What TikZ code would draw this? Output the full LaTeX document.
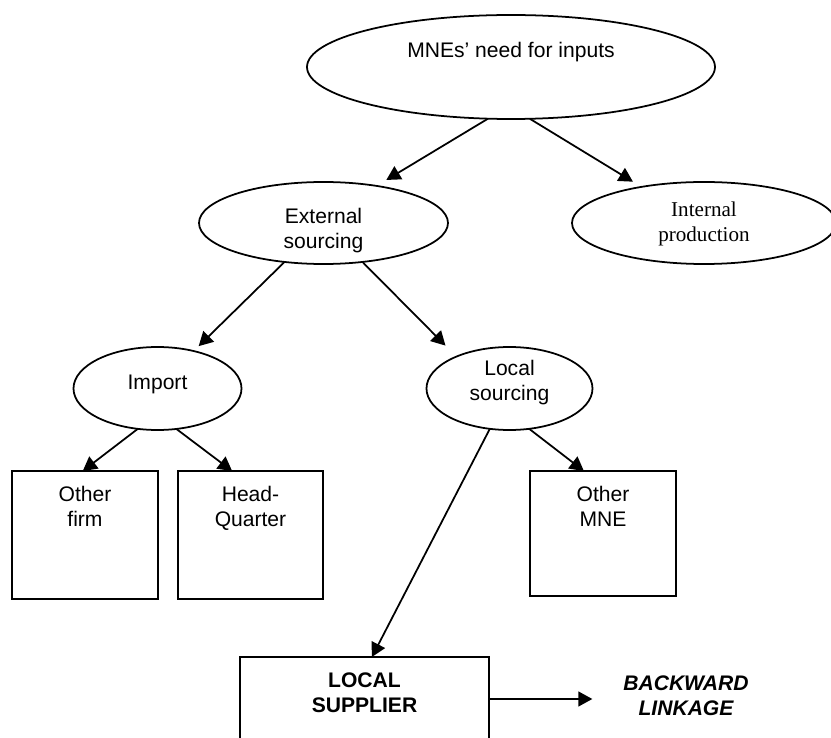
\documentclass[tikz,border=0pt]{standalone}
\usepackage{fontspec}
\setmainfont{Liberation Sans}
\newfontfamily\serifface{Liberation Serif}
\usepackage{tikz}
\usepackage{tkz-graph}
\usetikzlibrary{shapes,arrows.meta}

\tikzset{
  oval/.style={draw,shape=ellipse},
  box/.style={draw,shape=rectangle},
  tag/.style={anchor=north,align=center,inner sep=0pt},
  strong/.style={font=\fontsize{12}{14.2}\selectfont\bfseries},
}

\begin{document}
\begin{tikzpicture}[font=\fontsize{12}{14.2}\selectfont]
        \useasboundingbox (0,0) rectangle (16.62,14.74);
        \GraphInit[vstyle=normal]
        \tikzset{VertexStyle/.style={line width=1pt,inner sep=0pt,outer sep=0pt},
                 EdgeStyle/.style={draw,line width=1pt,-{Triangle[length=8pt,width=8.5pt]}}}
        % top of the tree
        \Vertex[x=10.22,y=13.40,NoLabel,style={oval,minimum width=8.16cm,minimum height=2.08cm,
                label={[tag,yshift=-0.53cm]north:MNEs’ need for inputs}}]{need}
        \Vertex[x=6.47,y=10.28,NoLabel,style={oval,minimum width=4.98cm,minimum height=1.64cm,
                label={[tag,yshift=-0.51cm]north:{External\\sourcing}}}]{ext}
        \EA[unit=7.61,NoLabel,style={oval,minimum width=5.28cm,minimum height=1.64cm,
                label={[tag,yshift=-0.40cm,font=\fontsize{12}{14.2}\serifface]north:{Internal\\production}}}](ext){int}
        % second level
        \Vertex[x=3.15,y=6.97,NoLabel,style={oval,minimum width=3.36cm,minimum height=1.66cm,
                label={[tag,yshift=-0.55cm]north:Import}}]{imp}
        \EA[unit=7.04,NoLabel,style={oval,minimum width=3.32cm,minimum height=1.66cm,
                label={[tag,yshift=-0.25cm]north:{Local\\sourcing}}}](imp){loc}
        % boxes
        \Vertex[x=1.70,y=4.04,NoLabel,style={box,minimum width=2.92cm,minimum height=2.56cm,
                label={[tag,yshift=-0.29cm]north:{Other\\firm}}}]{firm}
        \EA[unit=3.31,NoLabel,style={box,minimum width=2.90cm,minimum height=2.56cm,
                label={[tag,yshift=-0.29cm]north:{Head-\\Quarter}}}](firm){hq}
        \Vertex[x=12.06,y=4.07,NoLabel,style={box,minimum width=2.92cm,minimum height=2.50cm,
                label={[tag,yshift=-0.29cm]north:{Other\\MNE}}}]{mne}
        \Vertex[x=7.29,y=0.76,NoLabel,style={box,minimum width=4.98cm,minimum height=1.68cm,
                label={[tag,strong,yshift=-0.31cm]north:{LOCAL\\SUPPLIER}}}]{sup}
        \Vertex[x=13.72,y=0.83,L={BACKWARD\\LINKAGE},style={align=center,
                font=\fontsize{12}{14.2}\selectfont\bfseries\itshape}]{link}
        % arrows
        \Edge[style={shorten >=0.23cm}](need.246)(ext.35)
        \Edge[style={shorten >=0.20cm}](need.290)(int.150)
        \Edge[style={shorten >=0.14cm}](ext.225)(imp.46)
        \Edge[style={shorten >=0.31cm}](ext.315)(loc.149)
        \Edge(imp.244)(firm.92)
        \Edge(imp.295)(hq.106)
        \Edge(loc.296)(mne.107)
        \Edge(loc.244)(sup.80)
        \Edge[style={shorten >=0.62cm}](sup.east)(sup.east -| link.west)
\end{tikzpicture}
\end{document}
